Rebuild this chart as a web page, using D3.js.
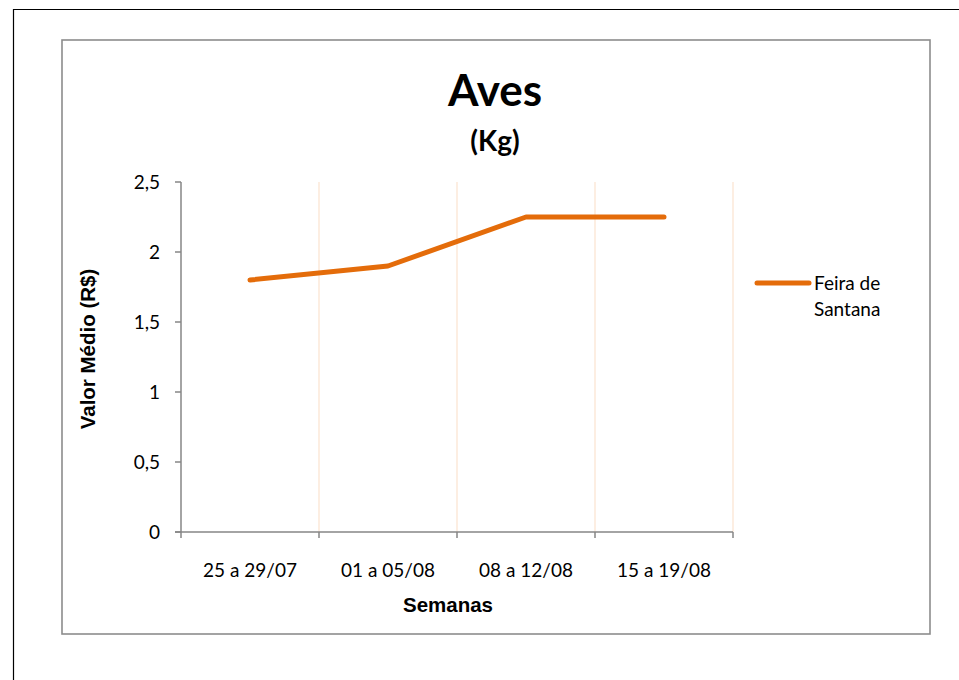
<!DOCTYPE html>
<head>
  <meta charset="utf-8">
  <title>Aves</title>
  <script src="https://d3js.org/d3.v7.min.js"></script>
  <style>
    body { margin: 0; background: #fff; }
    .tick-label { font-family: 'Lato', 'Open Sans', sans-serif; font-size: 19px; fill: #000; }
    .axis-title { font-family: 'Liberation Sans', Arial, sans-serif; font-weight: 700; font-size: 20.5px; fill: #000; }
    .grid-line { stroke: #fbe3cf; stroke-width: 1.2; }
    .axis-line { stroke: #868686; stroke-width: 1.5; fill: none; }
  </style>
</head>
<body>
  <script>
    var semanas = ["25 a 29/07", "01 a 05/08", "08 a 12/08", "15 a 19/08"];
    var feiraDeSantana = [1.8, 1.9, 2.25, 2.25];
    var yTicks = [0, 0.5, 1, 1.5, 2, 2.5];
    var seriesName = ["Feira de", "Santana"];

    var W = 959, H = 680;
    var plot = {left: 181, right: 733, top: 182, bottom: 532};
    var orange = "#e46c0a";

    var svg = d3.select("body").append("svg")
      .attr("width", W).attr("height", H);

    // outer black frame (page edge)
    svg.append("path")
      .attr("d", "M13.5,680 L13.5,9.5 L959,9.5")
      .attr("fill", "none").attr("stroke", "#000").attr("stroke-width", 1.2);

    // chart box
    svg.append("rect")
      .attr("x", 62).attr("y", 40).attr("width", 868).attr("height", 594)
      .attr("fill", "#fff").attr("stroke", "#8c8c8c").attr("stroke-width", 1.6);

    var x = d3.scaleBand().domain(semanas).range([plot.left, plot.right]);
    var y = d3.scaleLinear().domain([0, 2.5]).range([plot.bottom, plot.top]);

    // vertical gridlines at band boundaries
    var bounds = semanas.map(d => x(d) + x.bandwidth());
    svg.append("g").selectAll("line")
      .data(bounds)
      .enter().append("line")
        .attr("class", "grid-line")
        .attr("x1", d => d).attr("x2", d => d)
        .attr("y1", plot.top).attr("y2", plot.bottom);

    // y axis
    var yAxis = svg.append("g");
    yAxis.append("line").attr("class", "axis-line")
      .attr("x1", plot.left).attr("x2", plot.left)
      .attr("y1", plot.top).attr("y2", plot.bottom);
    yAxis.selectAll("line.tk")
      .data(yTicks)
      .enter().append("line")
        .attr("class", "axis-line tk")
        .attr("x1", plot.left - 6).attr("x2", plot.left)
        .attr("y1", d => y(d)).attr("y2", d => y(d));
    yAxis.selectAll("text")
      .data(yTicks)
      .enter().append("text")
        .attr("class", "tick-label")
        .attr("x", plot.left - 21)
        .attr("y", d => y(d))
        .attr("dy", "0.35em")
        .attr("text-anchor", "end")
        .text(d => d3.format(".1~f")(d).replace(".", ","));

    // x axis
    var xAxis = svg.append("g");
    xAxis.append("line").attr("class", "axis-line")
      .attr("x1", plot.left - 6).attr("x2", plot.right)
      .attr("y1", plot.bottom).attr("y2", plot.bottom);
    xAxis.selectAll("line.tk")
      .data([plot.left].concat(bounds))
      .enter().append("line")
        .attr("class", "axis-line tk")
        .attr("x1", d => d).attr("x2", d => d)
        .attr("y1", plot.bottom).attr("y2", plot.bottom + 6);
    xAxis.selectAll("text")
      .data(semanas)
      .enter().append("text")
        .attr("class", "tick-label")
        .attr("x", d => x(d) + x.bandwidth() / 2)
        .attr("y", 577)
        .attr("text-anchor", "middle")
        .text(d => d);

    // axis titles
    svg.append("text")
      .attr("class", "axis-title")
      .attr("x", 448).attr("y", 612)
      .attr("text-anchor", "middle")
      .text("Semanas");
    svg.append("text")
      .attr("class", "axis-title")
      .attr("transform", "translate(95,349) rotate(-90)")
      .attr("text-anchor", "middle")
      .text("Valor Médio (R$)");

    // titles
    svg.append("text")
      .attr("x", 495).attr("y", 106)
      .attr("text-anchor", "middle")
      .style("font-family", "'Lato', sans-serif")
      .style("font-weight", 700)
      .style("font-size", "44px")
      .text("Aves");
    svg.append("text")
      .attr("x", 495).attr("y", 151)
      .attr("text-anchor", "middle")
      .style("font-family", "'Lato', sans-serif")
      .style("font-weight", 700)
      .style("font-size", "28px")
      .text("(Kg)");

    // series line
    var line = d3.line()
      .x((d, i) => x(semanas[i]) + x.bandwidth() / 2)
      .y(d => y(d));
    svg.append("path")
      .datum(feiraDeSantana)
      .attr("d", line)
      .attr("fill", "none")
      .attr("stroke", orange)
      .attr("stroke-width", 5)
      .attr("stroke-linejoin", "round")
      .attr("stroke-linecap", "round");

    // legend
    var legend = svg.append("g").attr("transform", "translate(757,283)");
    legend.append("line")
      .attr("x1", 0).attr("x2", 52)
      .attr("stroke", orange).attr("stroke-width", 5)
      .attr("stroke-linecap", "round");
    legend.selectAll("text")
      .data(seriesName)
      .enter().append("text")
        .attr("class", "tick-label")
        .attr("x", 57)
        .attr("y", (d, i) => 7 + i * 26)
        .text(d => d);
  </script>
</body>
